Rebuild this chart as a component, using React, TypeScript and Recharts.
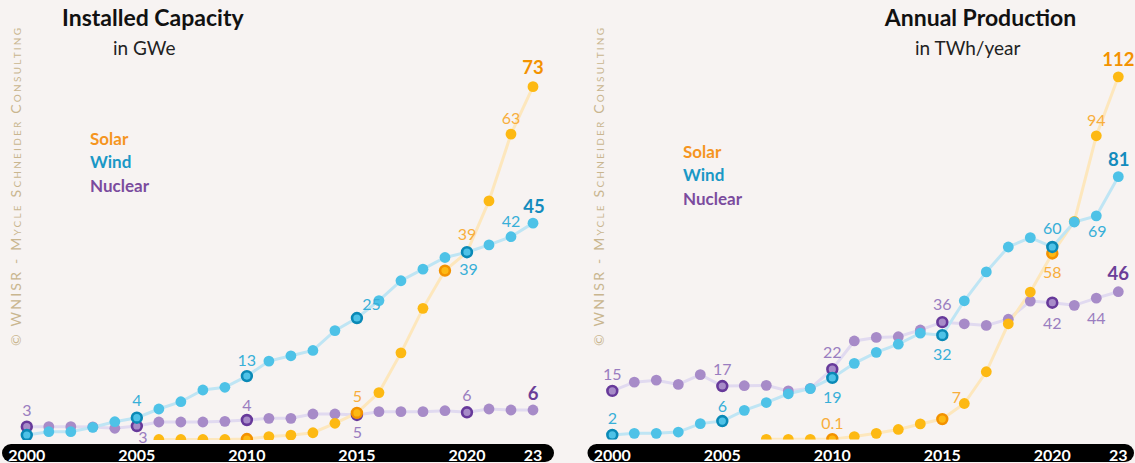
import { LabelList, Legend, Line, LineChart, XAxis, YAxis } from "recharts";

const years = [
  2000, 2001, 2002, 2003, 2004, 2005, 2006, 2007, 2008, 2009, 2010, 2011,
  2012, 2013, 2014, 2015, 2016, 2017, 2018, 2019, 2020, 2021, 2022, 2023,
];
const yearTicks = [2000, 2005, 2010, 2015, 2020, 2023];

// Installed capacity, GWe
const capNuclear = [
  2.75, 2.75, 2.75, 2.7, 2.42, 2.89, 3.72, 3.72, 3.72, 3.86, 4.13, 4.48,
  4.48, 5.37, 5.37, 5.17, 5.85, 5.85, 5.85, 6.05, 5.72, 6.4, 6.2, 6.2,
];
const capWind = [
  1.03, 1.71, 1.71, 2.62, 3.78, 4.61, 6.4, 7.91, 10.33, 10.89, 13.2, 16.3,
  17.4, 18.5, 22.6, 25.2, 28.8, 32.9, 35.3, 37.7, 38.8, 40.3, 42.0, 44.8,
];
const capSolar = [
  null, null, null, null, null, null, 0.1, 0.1, 0.1, 0.1, 0.2, 0.7,
  1.0, 1.5, 3.45, 5.6, 9.8, 18.0, 27.2, 35.0, 38.8, 49.4, 63.2, 73.0,
];

// Annual production, TWh/year
const prodNuclear = [
  15.0, 17.7, 18.3, 17.0, 20.0, 16.5, 16.6, 16.7, 15.0, 15.8, 21.7, 30.4,
  31.5, 31.7, 33.8, 36.2, 35.7, 35.2, 37.1, 42.7, 42.2, 41.4, 43.6, 45.6,
];
const prodWind = [
  1.4, 1.9, 1.9, 2.3, 4.9, 5.7, 9.0, 11.4, 14.1, 15.7, 19.0, 23.5,
  26.9, 29.4, 32.8, 32.2, 42.8, 51.7, 59.4, 62.3, 59.4, 67.1, 69.0, 81.1,
];
const prodSolar = [
  null, null, null, null, null, null, null, 0.05, 0.05, 0.05, 0.1, 0.9,
  1.9, 3.1, 4.8, 6.3, 11.1, 20.9, 35.7, 45.5, 57.4, 67.3, 93.7, 111.9,
];

// value labels shown next to points
const capNuclearLabels: Record<number, string> = { 2000: "3", 2005: "3", 2010: "4", 2015: "5", 2020: "6", 2023: "6" };
const capWindLabels: Record<number, string> = { 2005: "4", 2010: "13", 2015: "25", 2020: "39", 2022: "42", 2023: "45" };
const capSolarLabels: Record<number, string> = { 2015: "5", 2020: "39", 2022: "63", 2023: "73" };
const prodNuclearLabels: Record<number, string> = { 2000: "15", 2005: "17", 2010: "22", 2015: "36", 2020: "42", 2022: "44", 2023: "46" };
const prodWindLabels: Record<number, string> = { 2000: "2", 2005: "6", 2010: "19", 2015: "32", 2020: "60", 2022: "69", 2023: "81" };
const prodSolarLabels: Record<number, string> = { 2010: "0.1", 2016: "7", 2020: "58", 2022: "94", 2023: "112" };

// ringed markers
const capHighlights = {
  nuclear: [2000, 2005, 2010, 2015, 2020],
  wind: [2000, 2005, 2010, 2015, 2020],
  solar: [2010, 2015, 2019],
};
const prodHighlights = {
  nuclear: [2000, 2005, 2010, 2015, 2020],
  wind: [2000, 2005, 2010, 2015, 2020],
  solar: [2010, 2015, 2020],
};

const BG = "#f7f3f2";
const FONT = "Lato, 'Open Sans', sans-serif";

type Key = "nuclear" | "solar" | "wind";

const SERIES: Record<Key, any> = {
  nuclear: { name: "Nuclear", dot: "#a78bc8", ring: "#67399a", line: "#e1daf0", label: "#9a7dc0", strong: "#6b3e98", legend: "#7b4b9e" },
  solar: { name: "Solar", dot: "#fdb913", ring: "#f39200", line: "#fde7bd", label: "#f8ae3c", strong: "#f39200", legend: "#f5951f" },
  wind: { name: "Wind", dot: "#4ec2e7", ring: "#0a89b6", line: "#bfe5f4", label: "#38afd8", strong: "#148bbd", legend: "#1a98c6" },
};

const makeDot = (key: Key, hl: number[]) => (p: any) => {
  const { cx, cy, index, payload } = p;
  const k = `${key}-dot-${index}`;
  if (cx == null || cy == null || payload == null || payload[key] == null) return <g key={k} />;
  const s = SERIES[key];
  if (hl.includes(payload.year)) {
    return <circle key={k} cx={cx} cy={cy} r={4.9} fill={s.dot} stroke={s.ring} strokeWidth={2.6} />;
  }
  return <circle key={k} cx={cx} cy={cy} r={5.4} fill={s.dot} />;
};

const makeLabel =
  (key: Key, texts: Record<number, string>, place: Record<number, number[]>) => (p: any) => {
    const year = years[p.index];
    const t = texts[year];
    const x = p.x ?? p.viewBox?.x;
    const y = p.y ?? p.viewBox?.y;
    if (!t || x == null || y == null) return null;
    const [dx, dy] = place[year] ?? [0, -17];
    const strong = year === 2023;
    const s = SERIES[key];
    return (
      <text
        key={`${key}-lbl-${year}`}
        x={x + dx}
        y={y + dy}
        textAnchor="middle"
        dominantBaseline="central"
        fontFamily={FONT}
        fontSize={strong ? 18.5 : 16}
        fontWeight={strong ? 700 : 400}
        fill={strong ? s.strong : s.label}
      >
        {t}
      </text>
    );
  };

const renderTick = (p: any) => {
  const v = p.payload.value;
  return (
    <text x={p.x} y={p.y} dy={1} textAnchor="middle" dominantBaseline="central" fill="#fff" fontFamily={FONT} fontWeight={700} fontSize={16}>
      {v === 2023 ? "23" : String(v)}
    </text>
  );
};

const legendOrder: Key[] = ["solar", "wind", "nuclear"];
const renderLegend = () => (
  <div style={{ fontFamily: FONT, fontWeight: 700, fontSize: 17, lineHeight: "23.5px" }}>
    {legendOrder.map((k) => (
      <div key={k} style={{ color: SERIES[k].legend }}>
        {SERIES[k].name}
      </div>
    ))}
  </div>
);

interface PanelProps {
  nuclear: (number | null)[];
  wind: (number | null)[];
  solar: (number | null)[];
  labels: Record<Key, Record<number, string>>;
  place: Record<Key, Record<number, number[]>>;
  highlights: Record<Key, number[]>;
  yMax: number;
  margin: { top: number; right: number; bottom: number; left: number };
  padLeft: number;
  padRight: number;
  padBottom: number;
  legendAt: { left: number; top: number };
}

function Panel(props: PanelProps) {
  const rows = years.map((year, i) => ({
    year,
    nuclear: props.nuclear[i],
    solar: props.solar[i],
    wind: props.wind[i],
  }));
  const order: Key[] = ["nuclear", "solar", "wind"];
  return (
    <LineChart width={560} height={463} data={rows} margin={props.margin}>
      <XAxis
        dataKey="year"
        type="number"
        domain={[2000, 2023]}
        ticks={yearTicks}
        interval={0}
        tick={renderTick}
        tickLine={false}
        tickSize={0}
        tickMargin={0}
        height={10}
        padding={{ left: props.padLeft, right: props.padRight }}
        axisLine={{ stroke: "#000", strokeWidth: 18, strokeLinecap: "round" }}
      />
      <YAxis hide type="number" domain={[0, props.yMax]} padding={{ top: 0, bottom: props.padBottom }} allowDataOverflow />
      <Legend
        layout="vertical"
        align="center"
        verticalAlign="middle"
        content={renderLegend}
        wrapperStyle={{ left: props.legendAt.left, top: props.legendAt.top, width: "auto", height: "auto" }}
      />
      {order.map((k) => (
        <Line
          key={k}
          dataKey={k}
          name={SERIES[k].name}
          type="linear"
          stroke={SERIES[k].line}
          strokeWidth={3}
          dot={makeDot(k, props.highlights[k])}
          activeDot={false}
          isAnimationActive={false}
        >
          <LabelList dataKey={k} content={makeLabel(k, props.labels[k], props.place[k])} />
        </Line>
      ))}
    </LineChart>
  );
}

const capPlace: Record<Key, Record<number, number[]>> = {
  nuclear: { 2000: [0, -16.7], 2005: [6, 10.7], 2010: [0, -16], 2015: [0.5, 16.7], 2020: [0, -18], 2023: [0, -17.3] },
  wind: { 2005: [0, -17.7], 2010: [0, -17], 2015: [14.6, -14.7], 2020: [1.5, 16], 2022: [0, -16], 2023: [1, -17.6] },
  solar: { 2015: [0.5, -17.7], 2020: [0, -18.7], 2022: [0, -16.6], 2023: [0, -19.4] },
};
const prodPlace: Record<Key, Record<number, number[]>> = {
  nuclear: { 2000: [0, -17], 2005: [0, -18], 2010: [0, -18], 2015: [0, -19], 2020: [0, 19.5], 2022: [0, 19], 2023: [0, -18.4] },
  wind: { 2000: [0, -17.7], 2005: [0, -16], 2010: [0, 19], 2015: [0, 18], 2020: [0, -19.4], 2022: [1, 14.3], 2023: [0.5, -17.4] },
  solar: { 2010: [0, -16.6], 2016: [-8, -7], 2020: [0, 18.4], 2022: [0, -16.4], 2023: [0, -17.4] },
};

const watermark = "© WNISR - Mycle Schneider Consulting";

export default function App() {
  return (
    <div style={{ position: "absolute", left: 0, top: 0, width: 1135, height: 463, background: BG, overflow: "hidden" }}>
      <svg width={1135} height={463} style={{ position: "absolute", left: 0, top: 0 }}>
        <text x={152.8} y={26} textAnchor="middle" fontFamily={FONT} fontWeight={700} fontSize={23} fill="#111">
          Installed Capacity
        </text>
        <text x={113} y={55} fontFamily={FONT} fontWeight={400} fontSize={19} fill="#222">
          in GWe
        </text>
        <text x={980.5} y={26} textAnchor="middle" fontFamily={FONT} fontWeight={700} fontSize={23} fill="#111">
          Annual Production
        </text>
        <text x={915} y={55} fontFamily={FONT} fontWeight={400} fontSize={19} fill="#222">
          in TWh/year
        </text>
        {[20.5, 603.5].map((x) => (
          <text
            key={x}
            x={x}
            y={346}
            transform={`rotate(-90 ${x} 346)`}
            textLength={318}
            lengthAdjust="spacing"
            fontFamily={FONT}
            fontSize={14}
            fill="#c9b68f"
            style={{ fontVariant: "small-caps" }}
          >
            {watermark}
          </text>
        ))}
      </svg>
      <div style={{ position: "absolute", left: 0, top: 0 }}>
        <Panel
          nuclear={capNuclear}
          wind={capWind}
          solar={capSolar}
          labels={{ nuclear: capNuclearLabels, wind: capWindLabels, solar: capSolarLabels }}
          place={capPlace}
          highlights={capHighlights}
          yMax={90.9}
          margin={{ top: 0, right: 15, bottom: 0, left: 11 }}
          padLeft={15.8}
          padRight={12}
          padBottom={13}
          legendAt={{ left: 90, top: 126.7 }}
        />
      </div>
      <div style={{ position: "absolute", left: 575, top: 0 }}>
        <Panel
          nuclear={prodNuclear}
          wind={prodWind}
          solar={prodSolar}
          labels={{ nuclear: prodNuclearLabels, wind: prodWindLabels, solar: prodSolarLabels }}
          place={prodPlace}
          highlights={prodHighlights}
          yMax={135.6}
          margin={{ top: 0, right: 10, bottom: 0, left: 21.5 }}
          padLeft={15.8}
          padRight={6.7}
          padBottom={13.5}
          legendAt={{ left: 108, top: 139.7 }}
        />
      </div>
    </div>
  );
}
